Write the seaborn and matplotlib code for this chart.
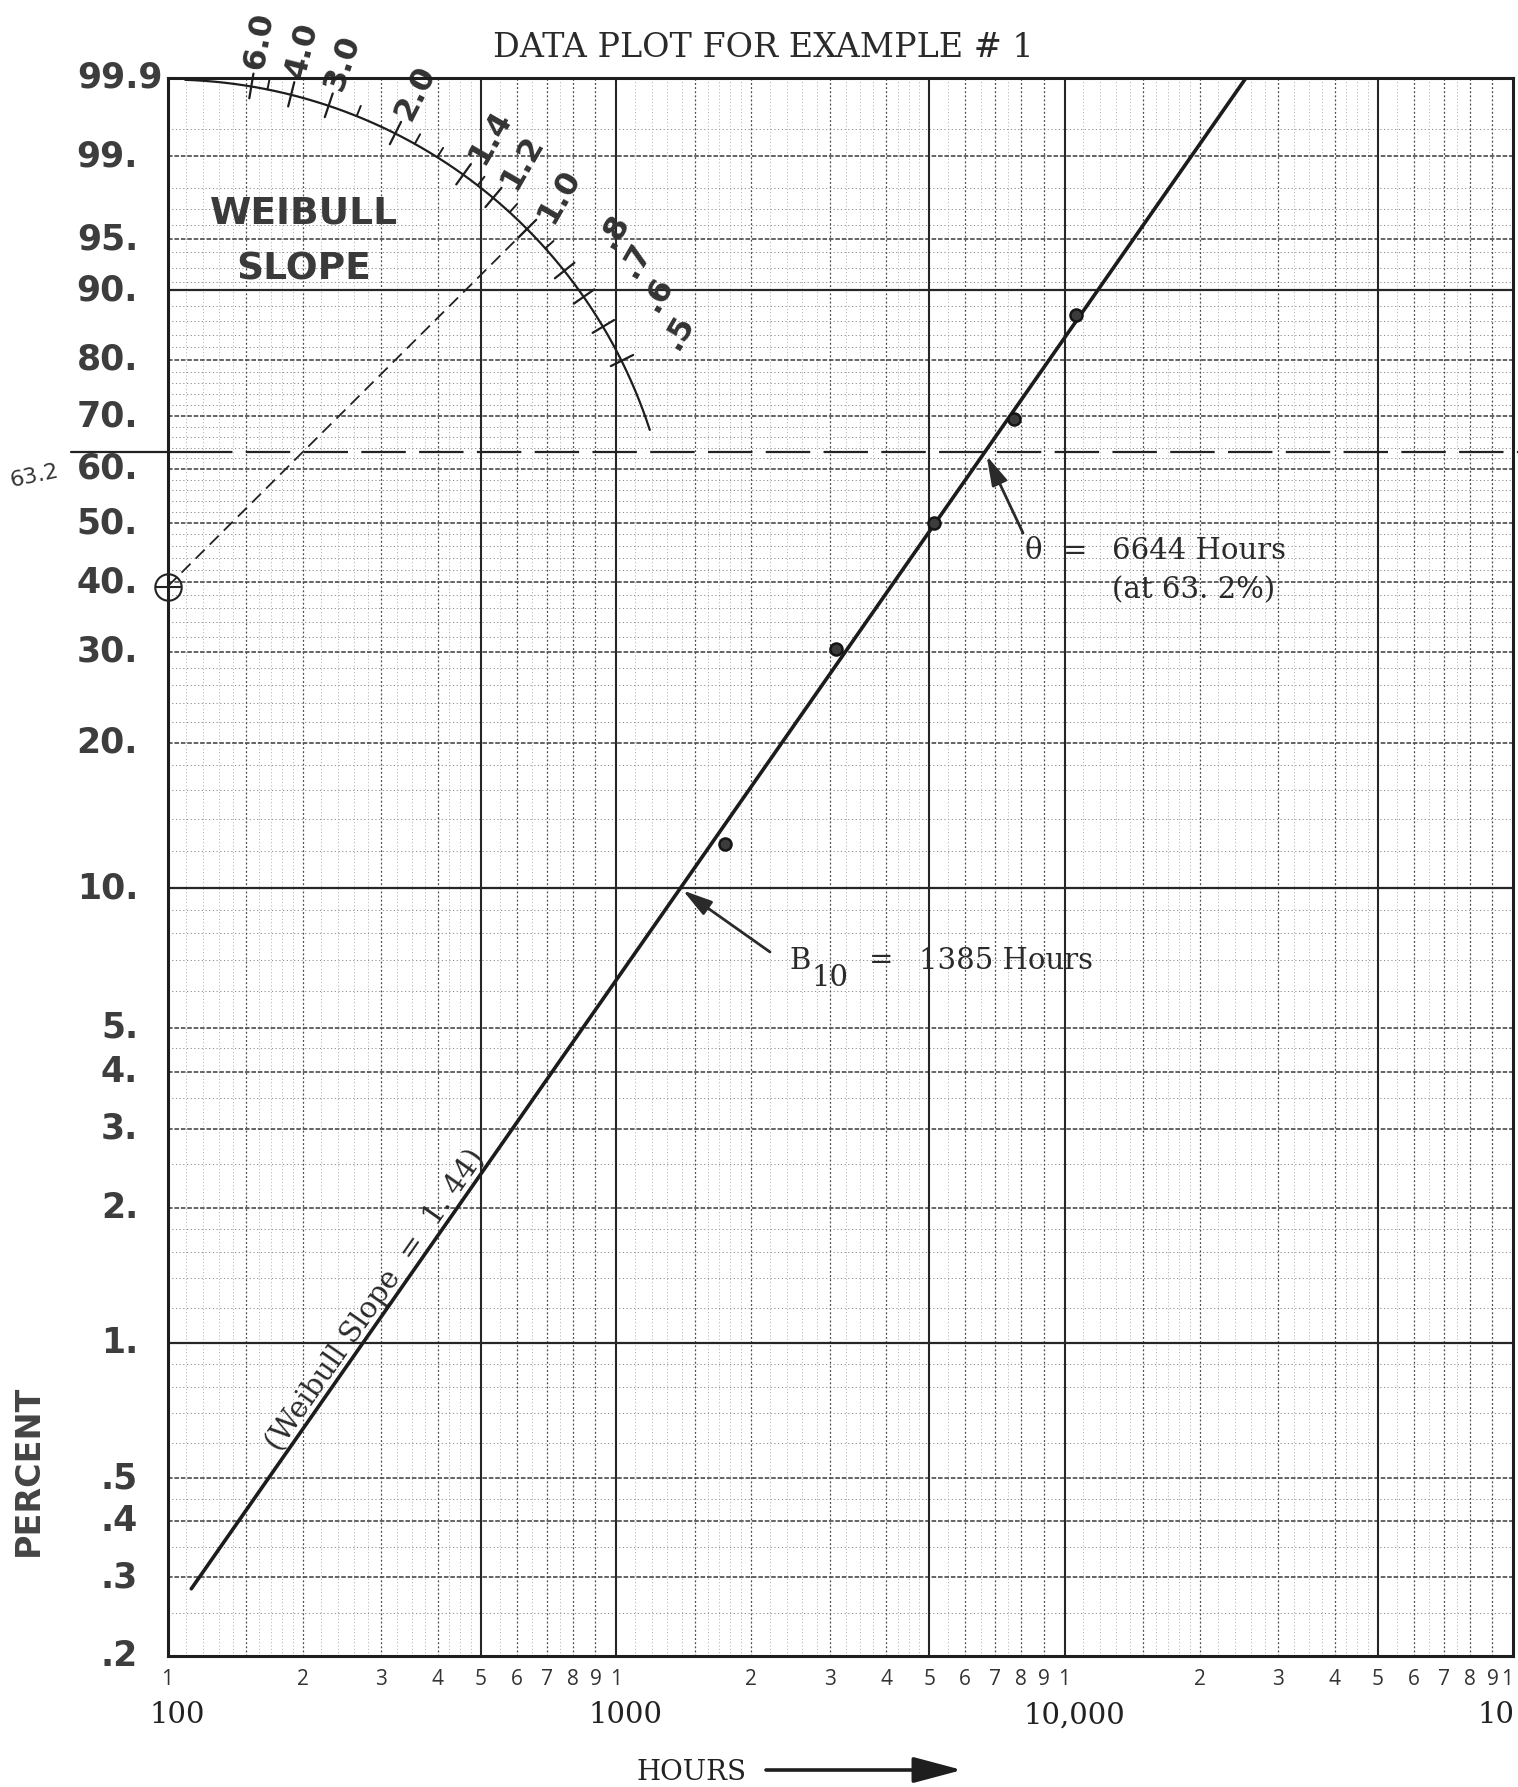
import numpy as np
import pandas as pd
import matplotlib
matplotlib.use("Agg")
import matplotlib.pyplot as plt
from matplotlib.transforms import blended_transform_factory
import seaborn as sns

# ---------------- data ----------------
failure_hours = [1750, 3090, 5120, 7700, 10600]
failure_percent = [12.4, 30.3, 50.0, 69.5, 86.9]

theta_hours = 6644            # characteristic life, 63.2 % point
weibull_slope = 1.44
b10_hours = 1385
fit_start_hours = 113

# slope protractor (estimation point on the left edge)
estimation_percent = 39.3
protractor_radius = 2.617     # in Weibull-y units
slope_major = [6.0, 4.0, 3.0, 2.0, 1.4, 1.2, 1.0, 0.8, 0.7, 0.6, 0.5]
slope_major_labels = ["6.0", "4.0", "3.0", "2.0", "1.4", "1.2", "1.0", ".8", ".7", ".6", ".5"]
slope_minor = [5.0, 2.5, 1.8, 1.6, 1.3, 1.1, 0.9]
slope_guide = 1.0

percent_ticks = [99.9, 99, 95, 90, 80, 70, 60, 50, 40, 30, 20, 10, 5, 4, 3, 2, 1, 0.5, 0.4, 0.3, 0.2]
percent_tick_labels = ["99.9", "99.", "95.", "90.", "80.", "70.", "60.", "50.", "40.", "30.", "20.",
                       "10.", "5.", "4.", "3.", "2.", "1.", ".5", ".4", ".3", ".2"]
hour_decades = [100, 1000, 10000, 100000]
hour_decade_labels = ["100", "1000", "10,000", "10"]
cycle_digits = [1, 2, 3, 4, 5, 6, 7, 8, 9]

# probability paper rulings
rule_y_solid = [90, 10, 1]
rule_y_major = [99, 95, 80, 70, 60, 50, 40, 30, 20, 5, 4, 3, 2, 0.5, 0.4, 0.3]
rule_y_minor = [99.5, 98, 97, 96, 94, 92.5, 91, 88, 86, 84, 82, 78, 76, 74, 72, 68, 66, 64, 62,
                58, 56, 54, 52, 48, 46, 44, 42, 38, 36, 34, 32, 28, 26, 24, 22, 18, 16, 14, 12,
                9, 8, 7, 6, 4.5, 3.5, 2.5, 1.8, 1.6, 1.4, 1.2, 0.9, 0.8, 0.7, 0.6, 0.45, 0.35, 0.25]
rule_x_solid = [1, 5]
rule_x_major = [1.5, 2, 3, 4, 6, 7, 8, 9]
rule_x_minor = [1.1, 1.2, 1.3, 1.4, 1.6, 1.7, 1.8, 1.9, 2.2, 2.4, 2.6, 2.8, 3.25, 3.5, 3.75,
                4.25, 4.5, 4.75, 5.5, 6.5, 7.5]


def wb_fwd(p):
    p = np.clip(np.asarray(p, dtype=float), 1e-7, 100 - 1e-9)
    return np.log(-np.log(1 - p / 100.0))


def wb_inv(y):
    y = np.clip(np.asarray(y, dtype=float), -30, 3.5)
    return 100.0 * (1 - np.exp(-np.exp(y)))


sns.set_style("white")
plt.rcParams["font.family"] = ["DejaVu Sans"]

W, H = 1518, 1787
fig = plt.figure(figsize=(W / 100, H / 100), dpi=100)
fig.patch.set_facecolor("white")
ax = fig.add_axes([167.5 / W, 1 - 1656 / H, (1513 - 167.5) / W, (1656 - 77.5) / H])


def fx(px):
    return px / W


def fy(py):
    return 1 - py / H


# fitted Weibull line
end_hours = theta_hours * (-np.log(1 - 0.999)) ** (1 / weibull_slope)
fit_hours = np.geomspace(fit_start_hours, end_hours, 80)
fit_percent = 100 * (1 - np.exp(-(fit_hours / theta_hours) ** weibull_slope))
fit_df = pd.DataFrame({"hours": fit_hours, "percent": fit_percent})
pts_df = pd.DataFrame({"hours": failure_hours, "percent": failure_percent})

sns.lineplot(data=fit_df, x="hours", y="percent", ax=ax, color="#1c1c1c", lw=2.6,
             sort=False, zorder=6)
sns.scatterplot(data=pts_df, x="hours", y="percent", ax=ax, s=75, color="#3c3c3c",
                edgecolor="#151515", linewidth=1.8, zorder=7)

ax.set_xscale("log")
ax.set_yscale("function", functions=(wb_fwd, wb_inv))
ax.set_xlim(hour_decades[0], hour_decades[-1])
ax.set_ylim(percent_ticks[-1], percent_ticks[0])
ax.set_xlabel("")
ax.set_ylabel("")
ax.set_xticks([])
ax.set_yticks([])
ax.xaxis.set_minor_locator(matplotlib.ticker.NullLocator())
ax.yaxis.set_minor_locator(matplotlib.ticker.NullLocator())
ax.tick_params(which="both", length=0, labelbottom=False, labelleft=False)
for sp in ax.spines.values():
    sp.set_color("#1e1e1e")
    sp.set_linewidth(2.2)
    sp.set_zorder(8)

# rulings
for v in rule_y_minor:
    ax.axhline(v, color="#8a8a8a", lw=0.7, ls=(0, (1.2, 2.6)), zorder=1)
for v in rule_y_major:
    ax.axhline(v, color="#3a3a3a", lw=1.1, ls=(0, (3, 1.2)), zorder=2)
for v in rule_y_solid:
    ax.axhline(v, color="#262626", lw=1.6, zorder=3)
for d in hour_decades[:-1]:
    for m in rule_x_minor:
        ax.axvline(d * m, color="#a0a0a0", lw=0.6, ls=(0, (1.2, 2.8)), zorder=1)
    for m in rule_x_major:
        ax.axvline(d * m, color="#4a4a4a", lw=0.9, ls=(0, (1.5, 1.8)), zorder=2)
    for m in rule_x_solid:
        ax.axvline(d * m, color="#262626", lw=1.5, zorder=3)

# 63.2 % reference line (runs past both edges of the paper)
yx = blended_transform_factory(ax.transAxes, ax.transData)
ax.plot([-0.0714, 0.015], [63.2, 63.2], transform=yx, color="#222", lw=1.6, clip_on=False, zorder=5)
ax.plot([0.015, 1.0037], [63.2, 63.2], transform=yx, color="#222", lw=1.6,
        ls=(0, (20, 6)), clip_on=False, zorder=5)
fig.text(fx(34), fy(476), "63.2", fontsize=16, rotation=12, ha="center", va="center", color="#333")

# percent labels
lab_kw = dict(fontsize=25, fontweight="bold", color="#3d3d3d", va="center", transform=yx)
for v, s in zip(percent_ticks, percent_tick_labels):
    if s == "99.9":
        ax.text(-0.0035, v, s, ha="right", **lab_kw)
    else:
        ax.text(-0.0219, v, s, ha="right", **lab_kw)

# hour labels
xy = blended_transform_factory(ax.transData, ax.transAxes)
for d in hour_decades[:-1]:
    for k in cycle_digits:
        ax.text(d * k, -0.0150, str(k), transform=xy, ha="center", va="center",
                fontsize=15, color="#333", family="Open Sans")
ax.text(hour_decades[-1], -0.0150, "1", transform=xy, ha="right", va="center",
        fontsize=15, color="#333", family="Open Sans")
for d, s in zip(hour_decades[:-1], hour_decade_labels[:-1]):
    ax.text(d * 1.05, -0.0375, s, transform=xy, ha="center", va="center",
            fontsize=21, color="#222", family="DejaVu Serif")
fig.text(fx(1514), fy(1715), hour_decade_labels[-1], ha="right", va="center",
         fontsize=21, color="#222", family="DejaVu Serif")

fig.text(fx(692), fy(1772), "HOURS", ha="center", va="center", fontsize=20,
         color="#222", family="DejaVu Serif")
ax.annotate("", xy=(fx(962), fy(1770)), xytext=(fx(766), fy(1770)),
            xycoords="figure fraction", textcoords="figure fraction",
            arrowprops=dict(arrowstyle="-|>,head_length=1.5,head_width=0.4", lw=2.6,
                            color="#1e1e1e", mutation_scale=20, shrinkA=0, shrinkB=0))
fig.text(fx(28), fy(1470), "PERCENT", rotation=90, ha="center", va="center",
         fontsize=24, fontweight="bold", color="#444")

fig.text(fx(763), fy(48), "DATA PLOT FOR EXAMPLE # 1", ha="center", va="center",
         fontsize=24, color="#2a2a2a", family="DejaVu Serif")

fig.text(fx(304), fy(213), "WEIBULL", ha="center", va="center", fontsize=27,
         fontweight="bold", color="#3a3a3a")
fig.text(fx(304), fy(269), "SLOPE", ha="center", va="center", fontsize=27,
         fontweight="bold", color="#3a3a3a")

# ---------------- slope protractor ----------------
fig.canvas.draw()
to_disp = ax.transData.transform
to_data = ax.transData.inverted().transform
E = to_disp((hour_decades[0], estimation_percent))
y_unit = to_disp((1000, wb_inv(1.0)))[1] - to_disp((1000, wb_inv(0.0)))[1]
x_unit = to_disp((1000 * np.e, 50))[0] - to_disp((1000, 50))[0]
R = protractor_radius * y_unit


def angle_for(b):
    return np.arctan(b * y_unit / x_unit)


def on_arc(phi, r):
    return E + r * np.array([np.cos(phi), np.sin(phi)])


phis = np.radians(np.linspace(18, 88, 240))
arc = np.array([on_arc(p, R) for p in phis])
arc_d = to_data(arc)
ax.plot(arc_d[:, 0], arc_d[:, 1], color="#1e1e1e", lw=1.6, zorder=6)

for b in slope_major:
    phi = angle_for(b)
    seg = to_data(np.array([on_arc(phi, R - 12), on_arc(phi, R + 13)]))
    ax.plot(seg[:, 0], seg[:, 1], color="#1e1e1e", lw=1.6, zorder=6, clip_on=False)
for b in slope_minor:
    phi = angle_for(b)
    seg = to_data(np.array([on_arc(phi, R), on_arc(phi, R + 11)]))
    ax.plot(seg[:, 0], seg[:, 1], color="#1e1e1e", lw=1.4, zorder=6, clip_on=False)
for b, s in zip(slope_major, slope_major_labels):
    phi = angle_for(b)
    off = 64 if s.startswith(".") else 46
    p = to_data(on_arc(phi, R + off)[None, :])[0]
    rot = max(np.degrees(phi), 60)
    ax.text(p[0], p[1], s, rotation=rot, rotation_mode="anchor", ha="center", va="center",
            fontsize=23, fontweight="bold", color="#333", clip_on=False, zorder=7)

# dashed guide from the estimation point
phi_g = angle_for(slope_guide)
guide = to_data(np.array([E, on_arc(phi_g, R)]))
ax.plot(guide[:, 0], guide[:, 1], color="#222", lw=1.3, ls=(0, (7, 4)), zorder=5)

# estimation point marker
ax.plot([hour_decades[0]], [estimation_percent], marker="o", ms=19, mfc="none", mec="#222",
        mew=1.5, clip_on=False, zorder=9)
ax.plot([hour_decades[0]], [estimation_percent], marker="_", ms=19, mec="#222",
        mew=1.5, clip_on=False, zorder=9)

# ---------------- annotations ----------------
ann_font = dict(family="DejaVu Serif", fontsize=21, color="#2a2a2a")
arrow_kw = dict(arrowstyle="-|>,head_length=0.9,head_width=0.25", lw=2.0, color="#2a2a2a",
                mutation_scale=20, shrinkA=0, shrinkB=3)
ax.annotate("", xy=(theta_hours, 63.2), xytext=(1023, H - 533), textcoords="figure pixels",
            arrowprops=arrow_kw, zorder=8)
fig.text(fx(1033), fy(551), "θ", ha="center", va="center", **ann_font)
fig.text(fx(1075), fy(551), "=", ha="center", va="center", **ann_font)
fig.text(fx(1112), fy(551), "6644 Hours", ha="left", va="center", **ann_font)
fig.text(fx(1112), fy(590), "(at 63. 2%)", ha="left", va="center", **ann_font)

ax.annotate("", xy=(b10_hours, 10), xytext=(770, H - 952), textcoords="figure pixels",
            arrowprops=arrow_kw, zorder=8)
fig.text(fx(800), fy(961), "B", ha="center", va="center", **ann_font)
fig.text(fx(830), fy(978), "10", ha="center", va="center", **ann_font)
fig.text(fx(881), fy(960), "=", ha="center", va="center", **ann_font)
fig.text(fx(919), fy(961), "1385 Hours", ha="left", va="center", **ann_font)

# slope note written along the fitted line
note_hours = 309
note_pct = 100 * (1 - np.exp(-(note_hours / theta_hours) ** weibull_slope))
p0 = to_disp((fit_hours[0], fit_percent[0]))
p1 = to_disp((fit_hours[-1], fit_percent[-1]))
line_ang = np.degrees(np.arctan2(p1[1] - p0[1], p1[0] - p0[0]))
nrm = np.radians(line_ang + 90)
ax.annotate("(Weibull Slope  =  1. 44)", xy=(note_hours, note_pct),
            xytext=(14 * np.cos(nrm) * 0.72, 14 * np.sin(nrm) * 0.72), textcoords="offset points",
            rotation=line_ang, rotation_mode="anchor", ha="center", va="center", **ann_font)

fig.savefig("out.png", dpi=100, facecolor="white")
